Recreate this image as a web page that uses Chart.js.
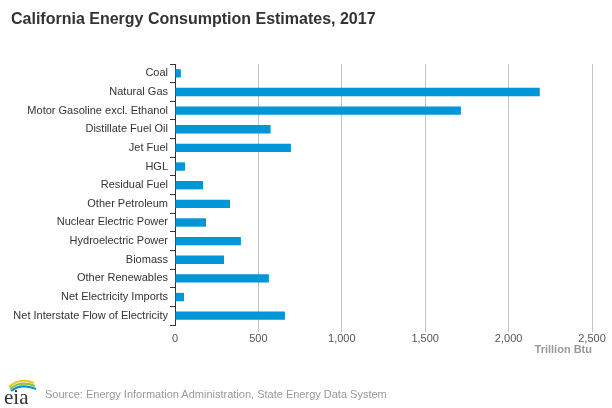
<!DOCTYPE html>
<html>
<head>
<meta charset="utf-8">
<script src="https://cdn.jsdelivr.net/npm/chart.js@4"></script>
<style>
  html, body { margin: 0; padding: 0; background: #fff; }
  #wrap { position: relative; width: 612px; height: 408px; overflow: hidden; font-family: "Liberation Sans", Arial, sans-serif; }
  #title { position: absolute; left: 11px; top: 10px; font-size: 16px; font-weight: bold; color: #333; white-space: nowrap; }
  #source { position: absolute; left: 45px; top: 388px; font-size: 11px; color: #999; white-space: nowrap; }
  #logo { position: absolute; left: 3px; top: 375px; }
  canvas { position: absolute; left: 0; top: 0; }
</style>
</head>
<body>
<div id="wrap">
  <canvas id="c" width="612" height="408"></canvas>
  <div id="title">California Energy Consumption Estimates, 2017</div>
  <svg id="logo" width="36" height="32" viewBox="0 0 36 32">
    <path d="M6 12 Q16 2 31 8" stroke="#f2c21b" stroke-width="2.2" fill="none"/>
    <path d="M7 14 Q17 5 32 11" stroke="#8cc63f" stroke-width="2.2" fill="none"/>
    <path d="M8 16 Q18 8 33 14" stroke="#0096d6" stroke-width="2.2" fill="none"/>
    <text x="1" y="29" font-family="Liberation Serif, serif" font-size="21" fill="#333">eia</text>
  </svg>
  <div id="source">Source: Energy Information Administration, State Energy Data System</div>
</div>
<script>
const categories = [
  "Coal", "Natural Gas", "Motor Gasoline excl. Ethanol", "Distillate Fuel Oil",
  "Jet Fuel", "HGL", "Residual Fuel", "Other Petroleum", "Nuclear Electric Power",
  "Hydroelectric Power", "Biomass", "Other Renewables", "Net Electricity Imports",
  "Net Interstate Flow of Electricity"
];
const consumption = [35, 2187, 1714, 573, 695, 60, 168, 330, 186, 395, 294, 563, 54, 659];
const xTicks = [0, 500, 1000, 1500, 2000, 2500];
const xAxisTitle = "Trillion Btu";

new Chart(document.getElementById('c'), {
  type: 'bar',
  data: {
    labels: categories,
    datasets: [{
      data: consumption,
      backgroundColor: '#0096d7',
      borderWidth: 0,
      categoryPercentage: 1.0,
      barPercentage: 0.45
    }]
  },
  options: {
    indexAxis: 'y',
    responsive: false,
    animation: false,
    layout: { padding: { top: 64, right: 20, left: 0, bottom: 0 } },
    plugins: { legend: { display: false }, tooltip: { enabled: false }, title: { display: false } },
    scales: {
      x: {
        min: 0, max: 2500,
        afterBuildTicks: (s) => { s.ticks = xTicks.map(v => ({ value: v })); },
        afterFit: (s) => { s.height = 83; },
        grid: {
          color: (ctx) => (ctx.tick && ctx.tick.value === 0) ? 'rgba(0,0,0,0)' : '#c4c4c4',
          lineWidth: 1,
          tickLength: 7,
          drawTicks: true
        },
        border: { display: false },
        ticks: {
          color: '#555',
          font: { family: 'Liberation Sans, Arial, sans-serif', size: 11 },
          padding: 0,
          callback: (v) => Number(v).toLocaleString('en-US')
        },
        title: {
          display: true,
          text: xAxisTitle,
          align: 'end',
          color: '#999',
          font: { family: 'Liberation Sans, Arial, sans-serif', size: 11, weight: 'bold' },
          padding: { top: 2, bottom: 51 }
        }
      },
      y: {
        afterFit: (s) => { s.width = 175; },
        grid: {
          offset: true,
          drawOnChartArea: false,
          drawTicks: true,
          tickLength: 5,
          color: '#333'
        },
        border: { display: true, color: '#333', width: 1 },
        ticks: {
          color: '#333',
          font: { family: 'Liberation Sans, Arial, sans-serif', size: 11 },
          padding: 2,
          autoSkip: false
        }
      }
    }
  }
});
</script>
</body>
</html>
